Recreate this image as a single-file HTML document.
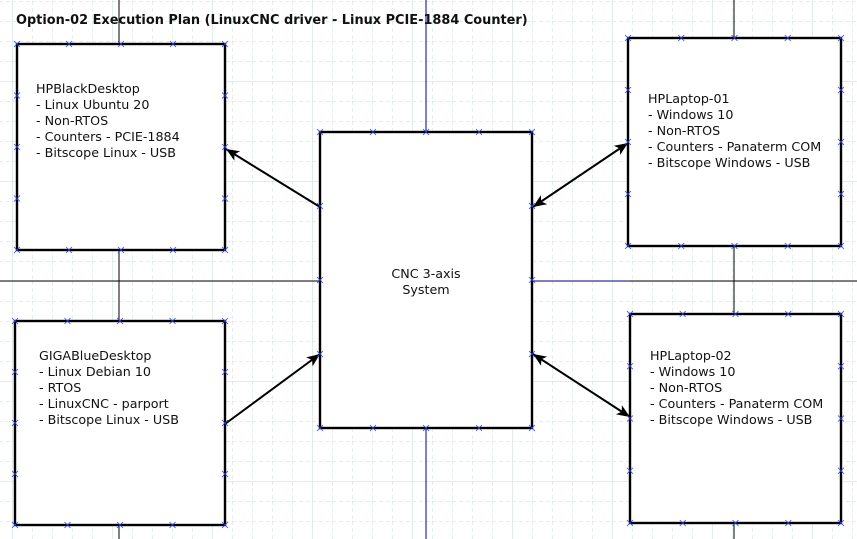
<!DOCTYPE html>
<html><head><meta charset="utf-8"><style>
html,body{margin:0;padding:0;background:#fff;}
svg{display:block;}
text{font-family:"DejaVu Sans","Liberation Sans",sans-serif;font-size:12.7px;fill:#111;}
</style></head><body>
<svg width="857" height="539" viewBox="0 0 857 539" xmlns="http://www.w3.org/2000/svg">
<defs>
<pattern id="g" x="12" y="1" width="20" height="20" patternUnits="userSpaceOnUse">
<path d="M0 0V20M0 0H20" stroke="#c8dede" stroke-width="1" stroke-dasharray="4,3" fill="none"/>
</pattern>
<pattern id="G" x="12" y="81" width="100" height="100" patternUnits="userSpaceOnUse">
<path d="M0 0V100M0 0H100" stroke="#cfe0e0" stroke-width="1.2" fill="none"/>
</pattern>
<marker id="a" viewBox="0 0 12 10" refX="12" refY="5" markerWidth="14" markerHeight="11" orient="auto-start-reverse" markerUnits="userSpaceOnUse">
<path d="M0 0L12 5L0 10L3 5z" fill="#000"/>
</marker>
</defs>
<rect width="857" height="539" fill="url(#g)"/>
<rect width="857" height="539" fill="url(#G)"/>
<g fill="none" stroke-width="1">
<line x1="426" y1="0" x2="426" y2="539" stroke="#00008b"/>
<line x1="119" y1="0" x2="119" y2="539" stroke="#000"/>
<line x1="734" y1="0" x2="734" y2="539" stroke="#000"/>
<line x1="0" y1="281" x2="857" y2="281" stroke="#000"/>
<line x1="532" y1="281" x2="630" y2="281" stroke="#00008b"/>
</g>
<text x="16" y="24" style="font-weight:bold;font-size:12.9px">Option-02 Execution Plan (LinuxCNC driver - Linux PCIE-1884 Counter)</text>
<g fill="#fff" stroke="#000" stroke-width="2.4">
<rect x="17" y="44" width="208" height="206"/>
<rect x="15" y="321" width="210" height="204"/>
<rect x="320" y="132" width="212" height="296"/>
<rect x="628" y="38" width="213" height="208"/>
<rect x="630" y="314" width="211" height="209"/>
</g>
<g stroke="#000" stroke-width="2" fill="none">
<line x1="320" y1="207" x2="226" y2="149" marker-end="url(#a)"/>
<line x1="225" y1="424" x2="320" y2="354" marker-end="url(#a)"/>
<line x1="533" y1="207" x2="628" y2="143" marker-start="url(#a)" marker-end="url(#a)"/>
<line x1="533" y1="354" x2="630" y2="417" marker-start="url(#a)" marker-end="url(#a)"/>
</g>
<g id="mk" stroke="#3344ee" stroke-width="0.8"></g>
<text x="36" y="93">HPBlackDesktop</text>
<text x="36" y="109">- Linux Ubuntu 20</text>
<text x="36" y="125">- Non-RTOS</text>
<text x="36" y="141">- Counters - PCIE-1884</text>
<text x="36" y="157">- Bitscope Linux - USB</text>
<text x="39" y="360">GIGABlueDesktop</text>
<text x="39" y="376">- Linux Debian 10</text>
<text x="39" y="392">- RTOS</text>
<text x="39" y="408">- LinuxCNC - parport</text>
<text x="39" y="424">- Bitscope Linux - USB</text>
<text x="426" y="278" text-anchor="middle">CNC 3-axis</text>
<text x="426" y="294" text-anchor="middle">System</text>
<text x="648" y="103">HPLaptop-01</text>
<text x="648" y="119">- Windows 10</text>
<text x="648" y="135">- Non-RTOS</text>
<text x="648" y="151">- Counters - Panaterm COM</text>
<text x="648" y="167">- Bitscope Windows - USB</text>
<text x="650" y="360">HPLaptop-02</text>
<text x="650" y="376">- Windows 10</text>
<text x="650" y="392">- Non-RTOS</text>
<text x="650" y="408">- Counters - Panaterm COM</text>
<text x="650" y="424">- Bitscope Windows - USB</text>
</svg>
<script>
var boxes=[[17,44,225,250],[15,321,225,525],[320,132,532,428],[628,38,841,246],[630,314,841,523]];
var g=document.getElementById('mk'),d='';
boxes.forEach(function(b){
 for(var i=0;i<=4;i++){
  var x=b[0]+(b[2]-b[0])*i/4,y=b[1]+(b[3]-b[1])*i/4;
  [[x,b[1]],[x,b[3]],[b[0],y],[b[2],y]].forEach(function(p){
   d+='M'+(p[0]-3)+' '+(p[1]-3)+'l6 6M'+(p[0]+3)+' '+(p[1]-3)+'l-6 6';
  });
 }
});
var p=document.createElementNS('http://www.w3.org/2000/svg','path');
p.setAttribute('d',d);g.appendChild(p);
</script>
</body></html>
